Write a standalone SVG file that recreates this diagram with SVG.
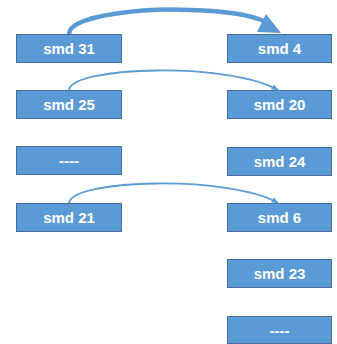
<svg xmlns="http://www.w3.org/2000/svg" width="337" height="344" viewBox="0 0 337 344">
  <style>
    .box { fill: #5B9BD5; stroke: #41719C; stroke-width: 1; }
    .lbl { fill: #FFFFFF; font-family: "Liberation Sans", Arial, sans-serif; font-weight: bold; font-size: 15px; text-anchor: middle; }
    .link { fill: none; stroke: #5B9BD5; }
  </style>
  <defs>
    <marker id="headSmall" viewBox="0 0 10 10" refX="9" refY="5" markerWidth="4" markerHeight="4" orient="auto" markerUnits="strokeWidth">
      <path d="M0,1 L10,5 L0,9 z" fill="#5B9BD5"/>
    </marker>
  </defs>
  <rect width="337" height="344" fill="#FFFFFF"/>

  <!-- left column -->
  <g id="smd31"><rect class="box" x="16.5" y="34.5" width="105" height="28"/><text class="lbl" x="69" y="54">smd 31</text></g>
  <g id="smd25"><rect class="box" x="16.5" y="90.5" width="105" height="28"/><text class="lbl" x="69" y="110">smd 25</text></g>
  <g id="blankL"><rect class="box" x="16.5" y="146.5" width="105" height="28"/><text class="lbl" x="69" y="166">----</text></g>
  <g id="smd21"><rect class="box" x="16.5" y="203.5" width="105" height="28"/><text class="lbl" x="69" y="223">smd 21</text></g>

  <!-- right column -->
  <g id="smd4"><rect class="box" x="227.5" y="34.5" width="104" height="28"/><text class="lbl" x="279.5" y="54">smd 4</text></g>
  <g id="smd20"><rect class="box" x="227.5" y="90.5" width="104" height="28"/><text class="lbl" x="279.5" y="110">smd 20</text></g>
  <g id="smd24"><rect class="box" x="227.5" y="147.5" width="104" height="28"/><text class="lbl" x="279.5" y="167">smd 24</text></g>
  <g id="smd6"><rect class="box" x="227.5" y="203.5" width="104" height="28"/><text class="lbl" x="279.5" y="223">smd 6</text></g>
  <g id="smd23"><rect class="box" x="227.5" y="259.5" width="104" height="28"/><text class="lbl" x="279.5" y="279">smd 23</text></g>
  <g id="blankR"><rect class="box" x="227.5" y="316.5" width="104" height="27"/><text class="lbl" x="279.5" y="335.5">----</text></g>

  <!-- connectors -->
  <g id="connectors">
    <path class="link" stroke-width="4.5" d="M69,34 C70,14 150,8 190,10 C225,11 250,14 266,22"/>
    <path d="M266,14 L281,33 L257,32 z" fill="#5B9BD5"/>
    <path class="link" stroke-width="1.8" marker-end="url(#headSmall)" d="M69,90 C72,66 230,62 278,90"/>
    <path class="link" stroke-width="1.8" marker-end="url(#headSmall)" d="M69,203 C72,179 230,175 278,203"/>
  </g>
</svg>
